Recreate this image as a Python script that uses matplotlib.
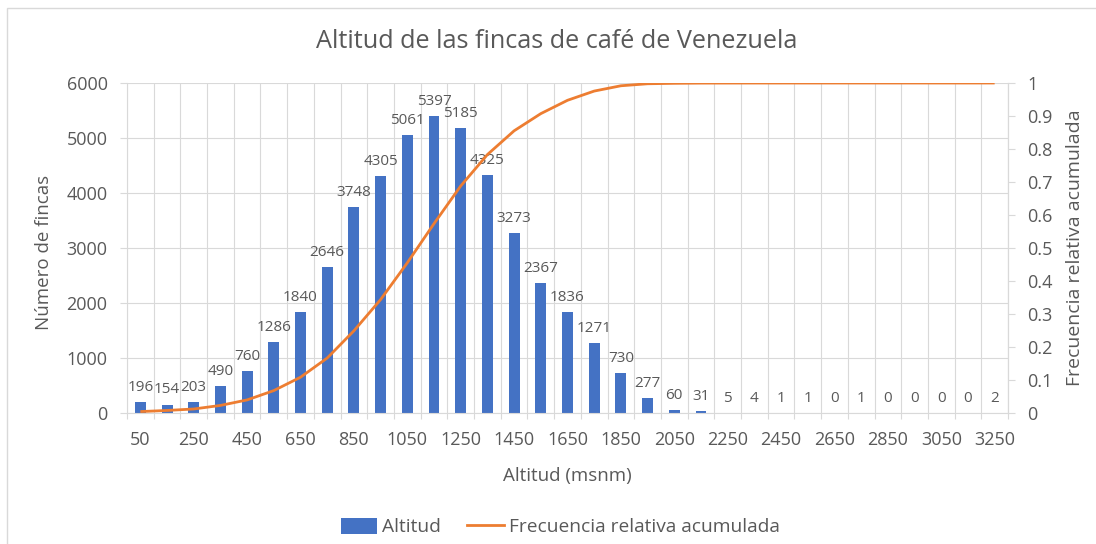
import numpy as np
import matplotlib
matplotlib.use("Agg")
import matplotlib.pyplot as plt
from matplotlib.patches import Rectangle, Patch
from matplotlib.lines import Line2D

# ---- data ----
altitudes = [50, 150, 250, 350, 450, 550, 650, 750, 850, 950, 1050, 1150, 1250,
             1350, 1450, 1550, 1650, 1750, 1850, 1950, 2050, 2150, 2250, 2350,
             2450, 2550, 2650, 2750, 2850, 2950, 3050, 3150, 3250]
counts = [196, 154, 203, 490, 760, 1286, 1840, 2646, 3748, 4305, 5061, 5397, 5185,
          4325, 3273, 2367, 1836, 1271, 730, 277, 60, 31, 5, 4,
          1, 1, 0, 1, 0, 0, 0, 0, 2]
cum_rel = np.cumsum(counts) / np.sum(counts)

left_ticks = [0, 1000, 2000, 3000, 4000, 5000, 6000]
right_ticks = [0, 0.1, 0.2, 0.3, 0.4, 0.5, 0.6, 0.7, 0.8, 0.9, 1]
right_labels = ["0", "0.1", "0.2", "0.3", "0.4", "0.5", "0.6", "0.7", "0.8", "0.9", "1"]

title = "Altitud de las fincas de café de Venezuela"
xlabel = "Altitud (msnm)"
ylabel_left = "Número de fincas"
ylabel_right = "Frecuencia relativa acumulada"

# ---- style ----
plt.rcParams['font.family'] = ['Open Sans', 'DejaVu Sans']
TXT = "#595959"
GRID = "#D9D9D9"
BLUE = "#4472C4"
ORANGE = "#ED7D31"

W, H = 1096, 544
fig = plt.figure(figsize=(W / 100, H / 100), dpi=100)

def fx(px):
    return px / W

def fy(py):
    return 1 - py / H

# chart border
fig.patches.append(Rectangle((fx(7), -0.1), 1.2, fy(8) + 0.1, transform=fig.transFigure,
                             fill=False, edgecolor=GRID, lw=1.0))

L, R, T, B = 127, 1008, 83, 413
ax = fig.add_axes([fx(L), fy(B), fx(R) - fx(L), fy(T) - fy(B)])
n = len(altitudes)
x = np.arange(n)

ax.bar(x, counts, width=0.41, color=BLUE, zorder=2)
ax.set_xlim(-0.5, n - 0.5)
ax.set_ylim(0, 6000)
ax.set_yticks(left_ticks)
ax.set_yticklabels([str(t) for t in left_ticks])
ax.set_xticks(x[::2])
ax.set_xticklabels([str(a) for a in altitudes[::2]])
ax.set_xticks(np.arange(-0.5, n, 1), minor=True)

ax.grid(axis='y', which='major', color=GRID, lw=0.8, zorder=0)
ax.grid(axis='x', which='minor', color=GRID, lw=0.8, zorder=0)
ax.set_axisbelow(True)

ax.spines['top'].set_visible(False)
for s in ['left', 'right', 'bottom']:
    ax.spines[s].set_color(GRID)
    ax.spines[s].set_linewidth(0.8)

ax.tick_params(axis='x', which='major', length=0, pad=13, labelsize=13, labelcolor=TXT)
ax.tick_params(axis='x', which='minor', length=4, width=0.8, color=GRID)
ax.tick_params(axis='y', which='major', length=5, width=0.8, color=GRID, pad=9,
               labelsize=13, labelcolor=TXT)

for i, v in enumerate(counts):
    ax.annotate(str(v), (i, v), xytext=(0, 8), textcoords='offset points',
                ha='center', va='baseline', fontsize=11, color=TXT, zorder=5)

ax2 = ax.twinx()
ax2.plot(x, cum_rel, color=ORANGE, lw=2.0, zorder=3, solid_capstyle='butt')
ax2.set_ylim(0, 1)
ax2.set_yticks(right_ticks)
ax2.set_yticklabels(right_labels)
for s in ['top', 'left', 'bottom']:
    ax2.spines[s].set_visible(False)
ax2.spines['right'].set_color(GRID)
ax2.spines['right'].set_linewidth(0.8)
ax2.tick_params(axis='y', length=5, width=0.8, color=GRID, pad=9,
                labelsize=13, labelcolor=TXT)

fig.text(fx(557), fy(42), title, ha='center', va='center', fontsize=18.2, color=TXT)
fig.text(fx(567), fy(476), xlabel, ha='center', va='center', fontsize=13.5, color=TXT)
fig.text(fx(44), fy(252), ylabel_left, ha='center', va='center', rotation=90,
         fontsize=13.5, color=TXT)
fig.text(fx(1075), fy(248), ylabel_right, ha='center', va='center', rotation=90,
         fontsize=14, color=TXT)

handles = [Patch(facecolor=BLUE, edgecolor='none', label='Altitud'),
           Line2D([0], [0], color=ORANGE, lw=2.0, label=ylabel_right)]
fig.legend(handles=handles, loc='center', bbox_to_anchor=(fx(560), fy(527)), ncol=2,
           frameon=False, fontsize=13.8, labelcolor=TXT, handlelength=1.9,
           handletextpad=0.25, columnspacing=1.4, handleheight=0.9)

fig.savefig("out.png", dpi=100)
